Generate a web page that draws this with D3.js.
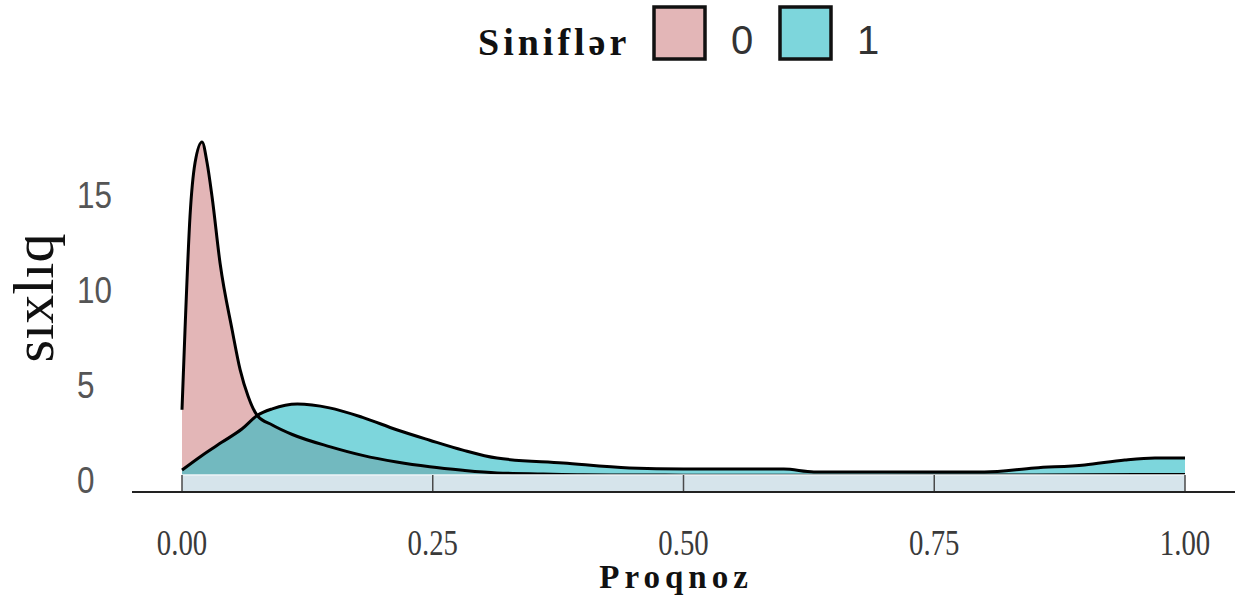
<!DOCTYPE html>
<html>
<head>
<meta charset="utf-8">
<title>sixliq</title>
<script src="https://cdn.jsdelivr.net/npm/d3@7"></script>
<style>
body { margin: 0; background: #fff; }
</style>
</head>
<body>
<svg width="1244" height="603"></svg>
<script>

// sinif 0
var x0 = [0, 0.003, 0.008, 0.013, 0.02, 0.025, 0.03, 0.038, 0.05, 0.058, 0.066, 0.075, 0.09, 0.11, 0.148, 0.18, 0.214, 0.247, 0.28, 0.314, 0.36, 0.4, 0.45, 0.5, 0.6, 0.7, 0.8, 0.9, 1.0];
var d0 = [3.8, 8.0, 14.0, 16.8, 17.9, 16.8, 15.0, 11.5, 8.0, 5.9, 4.5, 3.5, 3.0, 2.5, 1.85, 1.4, 1.05, 0.8, 0.62, 0.48, 0.42, 0.38, 0.37, 0.36, 0.36, 0.36, 0.37, 0.38, 0.4];
// sinif 1
var x1 = [0, 0.02, 0.04, 0.06, 0.075, 0.09, 0.115, 0.147, 0.18, 0.214, 0.247, 0.28, 0.314, 0.38, 0.446, 0.5, 0.6, 0.63, 0.7, 0.8, 0.85, 0.9, 0.94, 0.97, 1.0];
var d1 = [0.63, 1.4, 2.1, 2.8, 3.5, 3.85, 4.1, 3.9, 3.4, 2.75, 2.2, 1.68, 1.26, 1.0, 0.74, 0.68, 0.68, 0.53, 0.53, 0.53, 0.74, 0.9, 1.16, 1.26, 1.26];

var xTicks = [0, 0.25, 0.5, 0.75, 1.0];
var yTicks = [0, 5, 10, 15];
var classes = ["0", "1"];
var colors = ["#e3b6b7", "#7dd6dc"];

var svg = d3.select("svg");

var x = d3.scaleLinear().domain([0, 1]).range([182, 1185]);
var y = d3.scaleLinear().domain([0, 15]).range([482, 197]);

var s0 = x0.map(function(v, i) { return [v, d0[i]]; });
var s1 = x1.map(function(v, i) { return [v, d1[i]]; });

var area = d3.area()
  .x(function(d) { return x(d[0]); })
  .y0(y(0))
  .y1(function(d) { return y(d[1]); })
  .curve(d3.curveMonotoneX);

var line = d3.line()
  .x(function(d) { return x(d[0]); })
  .y(function(d) { return y(d[1]); })
  .curve(d3.curveMonotoneX);

svg.append("path").attr("d", area(s0)).attr("fill", colors[0]);
svg.append("path").attr("d", area(s1)).attr("fill", "rgb(38,187,197)").attr("fill-opacity", 0.6);
svg.append("path").attr("d", line(s0)).attr("fill", "none").attr("stroke", "#000").attr("stroke-width", 3);
svg.append("path").attr("d", line(s1)).attr("fill", "none").attr("stroke", "#000").attr("stroke-width", 3);

// alt zolaq
svg.append("rect")
  .attr("x", x(0)).attr("y", 475)
  .attr("width", x(1) - x(0)).attr("height", 17)
  .attr("fill", "#d6e4eb");
svg.append("line")
  .attr("x1", x(0)).attr("x2", x(1)).attr("y1", 475).attr("y2", 475)
  .attr("stroke", "#eef5f7").attr("stroke-width", 1.5);
svg.selectAll(".vt").data(xTicks).enter().append("line")
  .attr("x1", function(d) { return x(d); })
  .attr("x2", function(d) { return x(d); })
  .attr("y1", 475).attr("y2", 492)
  .attr("stroke", "#4a4a4a").attr("stroke-width", 1.5);

// x oxu
svg.append("line")
  .attr("x1", 132).attr("x2", 1235).attr("y1", 492).attr("y2", 492)
  .attr("stroke", "#222").attr("stroke-width", 2);

svg.selectAll(".xt").data(xTicks).enter().append("text")
  .attr("transform", function(d) { return "translate(" + x(d) + ",555) scale(0.9,1.1)"; })
  .attr("text-anchor", "middle")
  .attr("font-family", "Liberation Serif")
  .attr("font-size", 32)
  .attr("fill", "#3a3a3a")
  .text(function(d) { return d3.format(".2f")(d); });

svg.selectAll(".yt").data(yTicks).enter().append("text")
  .attr("transform", function(d) { return "translate(77," + (y(d) + 11) + ") scale(0.85,1)"; })
  .attr("text-anchor", "start")
  .attr("font-family", "Liberation Sans")
  .attr("font-size", 37)
  .attr("fill", "#555")
  .text(function(d) { return d; });

svg.append("text")
  .attr("transform", "translate(53,298) rotate(-90)")
  .attr("text-anchor", "middle")
  .attr("font-family", "Liberation Serif")
  .attr("font-size", 58)
  .attr("fill", "#111")
  .text("sıxlıq");

svg.append("text")
  .attr("x", 676).attr("y", 588)
  .attr("text-anchor", "middle")
  .attr("font-family", "Liberation Serif")
  .attr("font-weight", "bold")
  .attr("font-size", 33)
  .attr("letter-spacing", 5)
  .attr("fill", "#111")
  .text("Proqnoz");

// legend
svg.append("text")
  .attr("x", 478).attr("y", 55)
  .attr("font-family", "Liberation Serif")
  .attr("font-weight", "bold")
  .attr("font-size", 38)
  .attr("letter-spacing", 4)
  .attr("fill", "#111")
  .text("Siniflər");

var leg = svg.selectAll(".lg").data(classes).enter().append("g")
  .attr("transform", function(d, i) { return "translate(" + (654 + i * 126) + ",7)"; });
leg.append("rect")
  .attr("width", 51).attr("height", 52)
  .attr("fill", function(d, i) { return colors[i]; })
  .attr("stroke", "#111").attr("stroke-width", 3.5);
leg.append("text")
  .attr("x", 88).attr("y", 47)
  .attr("text-anchor", "middle")
  .attr("font-family", "Liberation Sans")
  .attr("font-size", 40)
  .attr("fill", "#333")
  .text(function(d) { return d; });

</script>
</body>
</html>
